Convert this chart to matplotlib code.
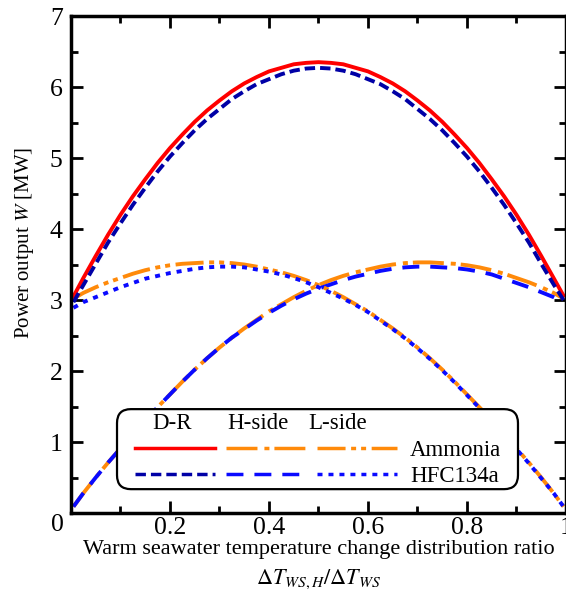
import matplotlib
matplotlib.use("Agg")
import matplotlib.pyplot as plt
from matplotlib.lines import Line2D
from matplotlib.patches import FancyBboxPatch
from matplotlib.ticker import MultipleLocator

plt.rcParams["font.family"] = ["Liberation Serif", "DejaVu Serif"]
plt.rcParams["mathtext.fontset"] = "stix"
plt.rcParams["lines.scale_dashes"] = False

# distribution ratio dT_WS,H / dT_WS
ratio = [0.005, 0.025, 0.05, 0.075, 0.10, 0.125, 0.15, 0.175, 0.20, 0.225,
         0.25, 0.275, 0.30, 0.325, 0.35, 0.375, 0.40, 0.425, 0.45, 0.475,
         0.50, 0.525, 0.55, 0.575, 0.60, 0.625, 0.65, 0.675, 0.70, 0.725,
         0.75, 0.775, 0.80, 0.825, 0.85, 0.875, 0.90, 0.925, 0.95, 0.975,
         0.995]

# power output [MW]
dr_ammonia = [3.05, 3.31, 3.62, 3.92, 4.20, 4.46, 4.70, 4.93, 5.14, 5.33,
              5.51, 5.67, 5.81, 5.94, 6.05, 6.14, 6.22, 6.27, 6.32, 6.34,
              6.35, 6.34, 6.32, 6.27, 6.22, 6.14, 6.05, 5.94, 5.81, 5.67,
              5.51, 5.33, 5.14, 4.93, 4.70, 4.46, 4.20, 3.92, 3.62, 3.31,
              3.06]
dr_hfc = [2.97, 3.21, 3.51, 3.81, 4.08, 4.34, 4.58, 4.81, 5.02, 5.21,
          5.39, 5.55, 5.69, 5.83, 5.94, 6.04, 6.11, 6.18, 6.23, 6.26,
          6.27, 6.26, 6.23, 6.18, 6.11, 6.04, 5.94, 5.83, 5.69, 5.55,
          5.39, 5.21, 5.02, 4.81, 4.58, 4.34, 4.08, 3.81, 3.51, 3.22,
          3.00]
h_ammonia = [0.09, 0.28, 0.50, 0.71, 0.91, 1.11, 1.31, 1.49, 1.67, 1.85,
             2.02, 2.18, 2.33, 2.47, 2.60, 2.72, 2.84, 2.94, 3.04, 3.13,
             3.21, 3.28, 3.34, 3.39, 3.43, 3.47, 3.50, 3.52, 3.53, 3.53,
             3.52, 3.51, 3.49, 3.46, 3.42, 3.37, 3.31, 3.25, 3.18, 3.10,
             3.02]
h_hfc = [0.09, 0.28, 0.50, 0.71, 0.91, 1.11, 1.31, 1.49, 1.67, 1.85,
         2.02, 2.18, 2.33, 2.47, 2.59, 2.71, 2.82, 2.92, 3.01, 3.09,
         3.16, 3.22, 3.28, 3.33, 3.37, 3.41, 3.44, 3.46, 3.47, 3.47,
         3.46, 3.45, 3.43, 3.40, 3.36, 3.30, 3.24, 3.18, 3.11, 3.04,
         2.97]
l_ammonia = [3.02, 3.10, 3.18, 3.25, 3.31, 3.37, 3.42, 3.46, 3.49, 3.51,
             3.52, 3.53, 3.53, 3.52, 3.50, 3.47, 3.43, 3.39, 3.34, 3.28,
             3.21, 3.13, 3.04, 2.94, 2.84, 2.72, 2.60, 2.47, 2.33, 2.18,
             2.02, 1.85, 1.67, 1.49, 1.31, 1.11, 0.91, 0.71, 0.50, 0.28,
             0.09]
l_hfc = [2.89, 2.97, 3.04, 3.11, 3.18, 3.24, 3.30, 3.34, 3.38, 3.41,
         3.44, 3.46, 3.47, 3.47, 3.46, 3.43, 3.40, 3.36, 3.31, 3.25,
         3.18, 3.10, 3.02, 2.93, 2.83, 2.71, 2.59, 2.46, 2.32, 2.17,
         2.01, 1.84, 1.66, 1.48, 1.30, 1.10, 0.90, 0.70, 0.49, 0.28,
         0.09]

RED = "#ff0000"
ORANGE = "#ff8a0a"
NAVY = "#0000a6"
BLUE = "#0a0aff"
LW = 2.8

# styles: (color, dashes in points or None for solid)
styles = {
    "dr_amm": (RED, None),
    "dr_hfc": (NAVY, (7.5, 3.6)),
    "h_amm": (ORANGE, (22.3, 5.0, 3.6, 3.6)),
    "h_hfc": (BLUE, (12.2, 7.9)),
    "l_amm": (ORANGE, (20.2, 4.0, 3.6, 3.6, 3.6, 4.0)),
    "l_hfc": (BLUE, (3.6, 4.3)),
}

fig = plt.figure(figsize=(5.66, 5.95), dpi=100)
ax = fig.add_axes([0.1254, 0.1378, 0.8746, 0.8353])


def draw(x, y, key, **kw):
    color, dashes = styles[key]
    line, = ax.plot(x, y, color=color, lw=LW, **kw)
    if dashes:
        line.set_dashes(dashes)
    return line


draw(ratio, h_ammonia, "h_amm")
draw(ratio, h_hfc, "h_hfc")
draw(ratio, l_ammonia, "l_amm")
draw(ratio, l_hfc, "l_hfc")
draw(ratio, dr_ammonia, "dr_amm")
draw(ratio, dr_hfc, "dr_hfc")

ax.set_xlim(0, 1)
ax.set_ylim(0, 7)
ax.xaxis.set_major_locator(MultipleLocator(0.2))
ax.xaxis.set_minor_locator(MultipleLocator(0.1))
ax.yaxis.set_major_locator(MultipleLocator(1))
ax.yaxis.set_minor_locator(MultipleLocator(0.5))
ax.set_xticks([0.2, 0.4, 0.6, 0.8, 1.0])
ax.set_xticklabels(["0.2", "0.4", "0.6", "0.8", "1"])
ax.set_yticks([1, 2, 3, 4, 5, 6, 7])
ax.set_yticklabels(["1", "2", "3", "4", "5", "6", "7"])
ax.tick_params(which="both", direction="in", top=True, right=True, width=2.0,
               labelsize=18.5)
ax.tick_params(which="major", length=8.6)
ax.tick_params(which="minor", length=5)
ax.tick_params(axis="x", pad=3)
ax.tick_params(axis="y", pad=6)
for s in ax.spines.values():
    s.set_linewidth(2.5)

# shared origin label
ax.text(-0.028, -0.024, "0", transform=ax.transAxes, fontsize=18.5,
        ha="center", va="center")

ax.text(0.5, -0.074, "Warm seawater temperature change distribution ratio",
        transform=ax.transAxes, fontsize=16, ha="center", va="center")
ax.text(0.5, -0.133, r"$\Delta T_{WS,H}/\Delta T_{WS}$",
        transform=ax.transAxes, fontsize=16, ha="center", va="center")
fig.text(25 / 566, 1 - 243 / 595, r"Power output $W$ [MW]", fontsize=15,
         rotation=90, ha="center", va="center")

# custom legend box
box = FancyBboxPatch((0.093, 0.048), 0.810, 0.161,
                     boxstyle="round,pad=0,rounding_size=0.028",
                     transform=ax.transAxes, facecolor="white",
                     edgecolor="black", lw=1.6, zorder=5)
ax.add_patch(box)

hdr_y = 0.181
for label, cx in [("D-R", 0.2034), ("H-side", 0.378), ("L-side", 0.539)]:
    ax.text(cx, hdr_y, label, transform=ax.transAxes, fontsize=16.5,
            ha="center", va="center", zorder=6)

rows = [(0.1305, ["dr_amm", "h_amm", "l_amm"], "Ammonia"),
        (0.0783, ["dr_hfc", "h_hfc", "l_hfc"], "HFC134a")]
cols = [(0.129, 0.291), (0.313, 0.473), (0.497, 0.659)]
for ry, keys, name in rows:
    for (x0, x1), key in zip(cols, keys):
        color, dashes = styles[key]
        ln = Line2D([x0, x1], [ry, ry], transform=ax.transAxes, color=color,
                    lw=2.5, zorder=6)
        if dashes:
            ln.set_dashes(dashes)
        ax.add_line(ln)
    ax.text(0.685, ry - 0.004, name, transform=ax.transAxes, fontsize=16.5,
            ha="left", va="center", zorder=6)

fig.savefig("out.png", dpi=100)
